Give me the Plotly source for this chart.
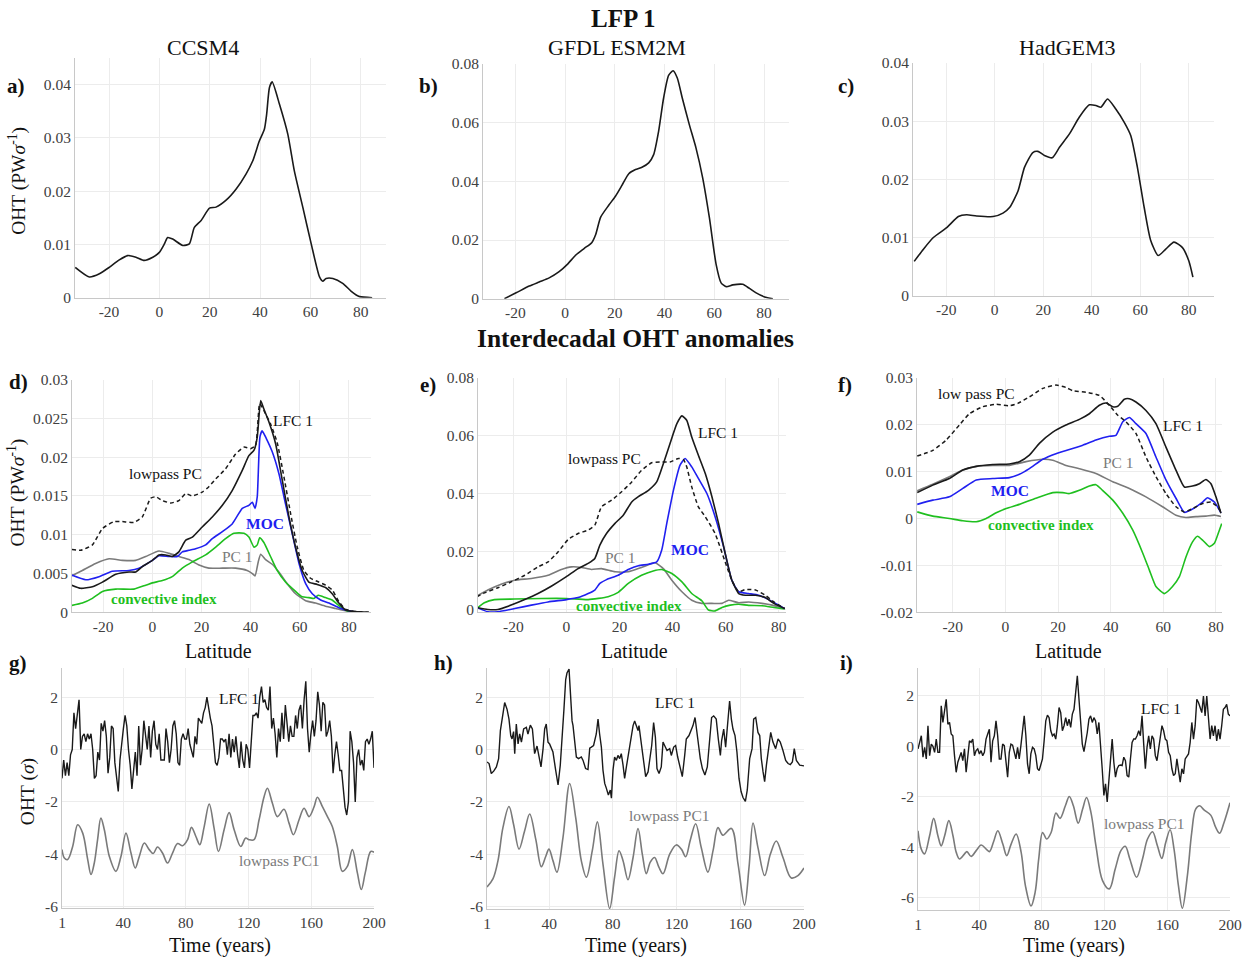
import numpy as np
import plotly.graph_objects as go

W, H = 1257, 957
M = 8                      # page inset observed in rendering
FW, FH = W - 2 * M, H - 2 * M
FONT = "Liberation Serif"

# ---------------- Row 1: LFP 1 patterns ----------------
a_lat = [-33.4, -27.8, -23.8, -19.9, -15.9, -12.6, -9.3, -6, -2.6, 0, 2, 3.3, 5.3, 9.3, 11.9, 13.9, 16.6, 19.9, 22.5,
         26.5, 30.5, 34.4, 37.1, 39.7, 41.7, 42.6, 43.7, 44.8, 47.7, 51, 53.6, 57, 60.3, 63.6, 64.9, 66.2, 68.9, 72.8,
         76.2, 79.5, 84.5]
a_val = [0.0057, 0.0039, 0.0045, 0.0057, 0.0071, 0.0079, 0.0076, 0.0070, 0.0076, 0.0085, 0.0101, 0.0113, 0.0110,
         0.0098, 0.0101, 0.0132, 0.0145, 0.0168, 0.0170, 0.0183, 0.0204, 0.0232, 0.0257, 0.0294, 0.0316, 0.0344,
         0.0394, 0.0405, 0.0363, 0.0307, 0.0238, 0.0169, 0.0101, 0.0039, 0.0031, 0.0036, 0.0036, 0.0027, 0.0012,
         0.0002, 0.0]

b_lat = [-24.4, -19.7, -14.4, -10.4, -6.4, -2.4, 0.9, 4.3, 7.6, 10.7, 12.3, 14.3, 17.6, 20.3, 22.9, 25.6, 28.3, 30.9,
         33.6, 35.6, 37.6, 39.6, 41.6, 43.4, 45.1, 47.1, 49.9, 52.6, 55.3, 58.0, 60.7, 62.7, 64.8, 67.4, 71.4, 74.1,
         76.8, 80.2, 83.5]
b_val = [0.0, 0.0020, 0.0043, 0.0057, 0.0071, 0.0092, 0.0117, 0.0149, 0.0171, 0.0191, 0.0219, 0.0278, 0.0319, 0.0350,
         0.0387, 0.0426, 0.0440, 0.0448, 0.0463, 0.0491, 0.0571, 0.0684, 0.0761, 0.0777, 0.0752, 0.0684, 0.0594,
         0.0514, 0.0412, 0.0276, 0.0117, 0.0054, 0.0041, 0.0047, 0.0049, 0.0035, 0.0020, 0.0006, 0.0]

c_lat = [-33.2, -29.4, -25.3, -19.8, -15.0, -11.6, -7.5, -0.7, 3.4, 6.2, 9.6, 12.3, 15.7, 17.8, 20.5, 23.7, 26.7, 30.8,
         34.9, 39.0, 41.7, 43.8, 46.5, 49.9, 53.4, 56.1, 58.8, 61.6, 64.3, 67.4, 70.5, 73.9, 77.3, 80.0, 81.7]
c_val = [0.0059, 0.0080, 0.0100, 0.0117, 0.0136, 0.0139, 0.0137, 0.0136, 0.0142, 0.0152, 0.0180, 0.0221, 0.0246,
         0.0248, 0.0241, 0.0237, 0.0255, 0.0278, 0.0307, 0.0328, 0.0327, 0.0324, 0.0338, 0.0321, 0.0298, 0.0275,
         0.0221, 0.0152, 0.0095, 0.0069, 0.0080, 0.0092, 0.0083, 0.0060, 0.0032]

# ---------------- Row 2: interdecadal OHT anomalies ----------------
# CCSM4
d_lfc_lat = [-32.8, -29.2, -24.4, -20.3, -14.9, -9.5, -6.8, -4.1, 0, 2.7, 5.4, 8.1, 10.8, 13.6, 16.3, 20.3, 24.4, 28.5,
             32.5, 36.6, 39.3, 41.4, 42.7, 44.1, 45.4, 47.5, 50.2, 52.9, 55.6, 58.3, 61, 63.7, 67.1, 70.5, 73.2, 75.9,
             78.6, 82.7, 88.1]
d_lfc_val = [0.0035, 0.0031, 0.0033, 0.0039, 0.0049, 0.0052, 0.0052, 0.0059, 0.0067, 0.0074, 0.0074, 0.0072, 0.0078,
             0.0093, 0.0097, 0.0110, 0.0123, 0.0138, 0.0157, 0.0183, 0.0202, 0.0209, 0.0226, 0.0273, 0.0262, 0.0245,
             0.0217, 0.0170, 0.0123, 0.0084, 0.0054, 0.0039, 0.0036, 0.0032, 0.0024, 0.0012, 0.0003, 0.0001, 0.0]
d_lp_lat = [-32.8, -29.2, -24.4, -20.3, -15.6, -12.2, -7.5, -4.1, -0.7, 1.4, 4.1, 7.5, 10.8, 13.6, 16.3, 20.3, 23,
            25.8, 29.8, 33.9, 37.3, 40, 42, 43.7, 45.4, 48.1, 50.8, 53.6, 56.3, 59, 61.7, 64.4, 67.8, 70.5, 73.2, 75.9,
            78.6, 82.7, 88.1]
d_lp_val = [0.0081, 0.0080, 0.0087, 0.0108, 0.0117, 0.0117, 0.0116, 0.0123, 0.0147, 0.0149, 0.0144, 0.0141, 0.0144,
            0.0153, 0.0150, 0.0155, 0.0162, 0.0172, 0.0185, 0.0204, 0.0213, 0.0211, 0.0215, 0.0269, 0.0260, 0.0243,
            0.0219, 0.0174, 0.0127, 0.0084, 0.0054, 0.0044, 0.0039, 0.0035, 0.0029, 0.0014, 0.0004, 0.0001, 0.0]
d_moc_lat = [-32.8, -27.1, -21.7, -16.3, -9.5, -5.4, 0, 2.7, 6.8, 10.2, 12.2, 14.9, 17.6, 21.7, 24.4, 28.5, 32.5, 36.6,
             39.3, 40.7, 41.8, 42.7, 43.8, 44.7, 46.4, 48.8, 51.5, 54.2, 56.9, 59.7, 62.4, 65.1, 68.5, 71.9, 75.9, 80,
             83.4]
d_moc_val = [0.0048, 0.0042, 0.0046, 0.0053, 0.0054, 0.0057, 0.0067, 0.0073, 0.0072, 0.0072, 0.0078, 0.0080, 0.0082,
             0.0087, 0.0095, 0.0104, 0.0114, 0.0134, 0.0138, 0.0142, 0.0134, 0.0149, 0.0226, 0.0234, 0.0224, 0.0207,
             0.0179, 0.0140, 0.0102, 0.0063, 0.0037, 0.0024, 0.0016, 0.0012, 0.0006, 0.0002, 0.0]
d_pc_lat = [-32.8, -28.5, -23.1, -17.6, -12.2, -6.8, -2.7, 2.7, 6.8, 10.8, 14.9, 19, 23, 28.5, 33.9, 38.6, 40.7, 41.8,
            43.1, 44.1, 46.1, 48.8, 51.5, 54.9, 58.3, 62.4, 66.4, 70.5, 74.6, 78.6, 82.7]
d_pc_val = [0.0047, 0.0054, 0.0063, 0.0069, 0.0067, 0.0067, 0.0072, 0.0079, 0.0076, 0.0072, 0.0068, 0.0061, 0.0057,
            0.0057, 0.0057, 0.0054, 0.0050, 0.0047, 0.0065, 0.0075, 0.0068, 0.0062, 0.0052, 0.0037, 0.0024, 0.0015,
            0.0012, 0.0008, 0.0005, 0.0002, 0.0]
d_ci_lat = [-32.8, -28.5, -24.4, -20.3, -14.9, -7.5, -2.7, 0, 4.1, 8.1, 12.2, 16.3, 21.7, 25.8, 29.8, 33.2, 37.3, 39.3,
            41.4, 42.7, 43.7, 45.4, 48.1, 50.8, 54.2, 58.3, 61, 63.7, 65.8, 67.5, 70.5, 73.2, 76.6, 80, 84]
d_ci_val = [0.0009, 0.0012, 0.0018, 0.0027, 0.0030, 0.0030, 0.0035, 0.0038, 0.0041, 0.0046, 0.0057, 0.0065, 0.0074,
            0.0084, 0.0095, 0.0102, 0.0102, 0.0097, 0.0084, 0.0087, 0.0096, 0.0090, 0.0072, 0.0054, 0.0039, 0.0027,
            0.0020, 0.0019, 0.0018, 0.0022, 0.0019, 0.0016, 0.0007, 0.0001, 0.0]

# GFDL ESM2M
e_lfc_lat = [-33.8, -29.6, -25.8, -20.8, -15.7, -10.7, -5.7, 0, 4.4, 8.2, 10.7, 12.6, 15.1, 18.3, 21.4, 24.6, 27.1,
             30.9, 34, 36.5, 39, 41.6, 43.5, 45.3, 47.2, 49.7, 52.3, 54.8, 57.3, 59.8, 62.3, 64.9, 67.4, 71.2, 74.9,
             78.1, 82.2]
e_lfc_val = [0.0007, 0.0, 0.0, 0.0015, 0.0034, 0.0055, 0.0080, 0.0113, 0.0141, 0.0159, 0.0176, 0.0222, 0.0262, 0.0297,
             0.0325, 0.0371, 0.0389, 0.0411, 0.0440, 0.0503, 0.0572, 0.0641, 0.0668, 0.0653, 0.0595, 0.0532, 0.0469,
             0.0389, 0.0297, 0.0193, 0.0101, 0.0055, 0.0049, 0.0049, 0.0041, 0.0021, 0.0003]
e_lp_lat = [-33.8, -30.9, -25.8, -20.8, -15.7, -10.7, -6.9, -3.1, 0.6, 4.4, 8.2, 10.7, 13.2, 17, 20.8, 24.6, 28.3,
            32.1, 35.9, 39, 42.2, 44.1, 45.3, 47.2, 49.7, 52.3, 56, 59.8, 62.3, 64.9, 67.4, 71.2, 74.9, 78.1, 82.2]
e_lp_val = [0.0044, 0.0057, 0.0075, 0.0095, 0.0118, 0.0147, 0.0164, 0.0199, 0.0241, 0.0262, 0.0274, 0.0291, 0.0354,
            0.0377, 0.0406, 0.0440, 0.0480, 0.0506, 0.0509, 0.0509, 0.0521, 0.0517, 0.0492, 0.0423, 0.0354, 0.0320,
            0.0262, 0.0164, 0.0101, 0.0061, 0.0069, 0.0067, 0.0049, 0.0026, 0.0003]
e_moc_lat = [-33.8, -29.6, -25.8, -19.5, -13.2, -6.9, 0, 4.4, 8.2, 10.7, 12.6, 15.1, 19.5, 23.3, 27.1, 30.9, 34, 35.9,
             37.8, 40.3, 42.8, 44.7, 47.2, 49.7, 52.9, 56, 59.2, 62.3, 64.9, 68.6, 72.4, 76.2, 79.3, 82.2]
e_moc_val = [0.0007, -0.0008, -0.0008, 0.0003, 0.0015, 0.0026, 0.0034, 0.0041, 0.0055, 0.0067, 0.0090, 0.0103, 0.0118,
             0.0138, 0.0151, 0.0156, 0.0164, 0.0205, 0.0297, 0.0411, 0.0498, 0.0521, 0.0492, 0.0452, 0.0400, 0.0320,
             0.0216, 0.0101, 0.0061, 0.0055, 0.0049, 0.0034, 0.0018, 0.0003]
e_pc_lat = [-33.8, -29.6, -24.6, -19.5, -13.2, -6.9, -1.9, 1.9, 5.7, 9.4, 13.2, 18.3, 23.3, 28.3, 33.4, 36.5, 39.7,
            43.5, 47.2, 51, 54.8, 58.6, 61.1, 64.9, 68.6, 73.7, 77.5, 82.2]
e_pc_val = [0.0046, 0.0067, 0.0087, 0.0101, 0.0107, 0.0118, 0.0138, 0.0147, 0.0145, 0.0138, 0.0141, 0.0130, 0.0130,
            0.0145, 0.0161, 0.0141, 0.0101, 0.0061, 0.0032, 0.0021, 0.0021, 0.0021, 0.0032, 0.0023, 0.0026, 0.0021,
            0.0015, 0.0003]
e_ci_lat = [-33.8, -30.9, -27.1, -19.5, -9.4, 0, 8.2, 15.7, 19.5, 23.3, 28.3, 32.7, 35.9, 39.7, 43.5, 47.2, 51, 53.5,
            56, 58.6, 61.7, 64.9, 68.6, 73.7, 78.1, 82.2]
e_ci_val = [0.0003, 0.0023, 0.0034, 0.0036, 0.0038, 0.0038, 0.0034, 0.0044, 0.0059, 0.0090, 0.0118, 0.0133, 0.0138,
            0.0124, 0.0095, 0.0055, 0.0030, -0.0002, -0.0005, 0.0007, 0.0015, 0.0018, 0.0014, 0.0013, 0.0007, 0.0002]

# HadGEM3
f_lfc_lat = [-33.5, -27.6, -21.3, -16.2, -11.1, -4.8, 1.5, 5.3, 9.1, 12.9, 18, 23, 28.1, 31.9, 35.7, 38.2, 40.8, 42.7,
             45.2, 47.1, 49.6, 53.4, 57.2, 61, 64.8, 68, 71.1, 73.7, 76.2, 78.1, 80, 81.9]
f_lfc_val = [0.0055, 0.0071, 0.0085, 0.0103, 0.0111, 0.0115, 0.0116, 0.0121, 0.0135, 0.0160, 0.0184, 0.0199, 0.0211,
             0.0223, 0.0241, 0.0246, 0.0238, 0.0239, 0.0254, 0.0255, 0.0248, 0.0230, 0.0202, 0.0152, 0.0103, 0.0067,
             0.0069, 0.0074, 0.0083, 0.0074, 0.0046, 0.0011]
f_lp_lat = [-33.5, -27.6, -22.5, -17.5, -13.7, -8.6, -3.5, 1.5, 4.7, 9.1, 14.2, 19.2, 23, 25.6, 30.6, 35.7, 39.5,
            42.7, 45.8, 49.6, 53.4, 57.2, 61, 64.8, 68, 71.1, 74.9, 78.1, 80.6, 81.9]
f_lp_val = [0.0133, 0.0145, 0.0167, 0.0199, 0.0223, 0.0238, 0.0243, 0.0240, 0.0245, 0.0259, 0.0277, 0.0284, 0.0279,
            0.0272, 0.0269, 0.0262, 0.0241, 0.0220, 0.0206, 0.0181, 0.0131, 0.0089, 0.0053, 0.0025, 0.0014, 0.0021,
            0.0032, 0.0035, 0.0025, 0.0014]
f_moc_lat = [-33.5, -27.6, -21.3, -16.2, -11.1, -4.8, 1.5, 5.3, 9.1, 14.2, 19.2, 24.3, 29.4, 34.4, 39.5, 42, 44.6,
             47.1, 49.6, 53.4, 57.2, 61, 64.8, 68, 71.1, 74.9, 76.8, 79.4, 81.9]
f_moc_val = [0.0030, 0.0039, 0.0046, 0.0064, 0.0082, 0.0085, 0.0087, 0.0094, 0.0106, 0.0126, 0.0138, 0.0147, 0.0156,
             0.0167, 0.0175, 0.0177, 0.0206, 0.0215, 0.0202, 0.0181, 0.0131, 0.0082, 0.0043, 0.0013, 0.0020, 0.0035,
             0.0044, 0.0035, 0.0012]
f_pc_lat = [-33.5, -27.6, -21.3, -16.2, -11.1, -4.8, 1.5, 7.8, 14.2, 18, 23, 28.1, 34.4, 40.8, 47.1, 53.4, 59.7, 64.8,
            68.6, 72.4, 76.2, 79.4, 81.9]
f_pc_val = [0.0059, 0.0073, 0.0089, 0.0103, 0.0111, 0.0113, 0.0113, 0.0121, 0.0126, 0.0124, 0.0113, 0.0106, 0.0096,
            0.0078, 0.0064, 0.0046, 0.0025, 0.0007, 0.0002, 0.0004, 0.0005, 0.0007, 0.0004]
f_ci_lat = [-33.5, -27.6, -21.3, -16.2, -11.1, -7.3, -3.5, 0.3, 5.3, 11.6, 18, 21.8, 24.3, 28.1, 31.9, 34.4, 36.9,
            40.8, 44.6, 48.4, 52.2, 54.7, 57.2, 60.4, 63.5, 66.1, 68.6, 71.1, 73, 74.9, 77.5, 79.4, 81.3, 82.2]
f_ci_val = [0.0014, 0.0005, 0.0, -0.0005, -0.0007, 0.0, 0.0012, 0.0021, 0.0030, 0.0043, 0.0055, 0.0055, 0.0053,
            0.0060, 0.0069, 0.0072, 0.0060, 0.0039, 0.0011, -0.0025, -0.0074, -0.0110, -0.0145, -0.0160, -0.0145,
            -0.0124, -0.0082, -0.0050, -0.0038, -0.0046, -0.0060, -0.0053, -0.0025, -0.0011]

# ---------------- Row 3: time series ----------------
g_lfc = [-1.1, -0.4, -1.0, -0.5, -1.0, -0.2, 0.0, 1.4, 0.8, 1.4, 1.9, 0.0, 0.5, 0.6, 0.3, 0.6, 0.4, 0.6, 0.0, -1.1,
         -1.0, -0.1, -0.4, 1.0, 0.7, 1.1, 0.5, -0.9, -0.3, 0.9, 0.8, -0.5, -1.0, -1.6, -0.4, 0.3, 0.8, 1.3, 0.9, 0.0,
         -0.6, -1.5, -0.8, -0.1, -1.0, 0.9, -0.6, 0.0, 1.1, 0.6, 0.0, 0.9, -0.3, 0.7, 1.1, 0.2, 0.0, 0.6, -0.4, -0.4,
         -0.4, 0.8, 0.3, -0.5, 0.0, 0.9, 1.1, 0.6, -0.5, -0.6, 0.4, 0.6, 0.4, 0.4, 0.8, 0.2, -0.1, -0.3, 0.5, 0.2,
         1.2, 1.1, 1.0, 1.4, 1.6, 2.0, 1.5, 1.2, 0.9, 0.0, -0.5, -0.6, -0.3, 0.4, 0.4, 0.3, 0.4, -0.2, 0.6, -0.3,
         0.4, -0.1, 0.5, -0.2, -0.7, 0.3, -0.4, -0.7, 0.2, 0.0, -0.7, 0.3, 1.3, 1.3, 1.4, 1.2, 2.0, 2.4, 1.8, 1.9,
         1.6, 1.5, 2.4, 0.8, 1.2, 0.6, -0.3, 0.8, 0.3, 1.4, 0.4, 1.7, 1.1, 0.3, 0.9, 0.5, 0.5, 1.3, 0.8, 1.5, 1.7,
         0.8, 1.9, 2.6, 0.8, -0.1, 0.6, 1.1, 0.5, 1.1, 2.2, 1.7, 0.7, 1.8, 1.7, 0.5, 0.7, 1.1, 0.5, -0.9, -0.2, 0.3,
         -0.2, -0.8, -0.8, -1.5, -2.2, -2.5, -2.0, 0.7, 0.3, -0.5, -2.0, -0.3, 0.0, -0.6, -0.4, -0.8, 0.3, 0.4, 0.2,
         0.4, 0.7, -0.7]
g_lp_year = [1.0, 2.5, 4.6, 7.8, 11.0, 14.2, 17.4, 19.5, 21.6, 23.7, 25.8, 28.0, 31.2, 35.4, 38.6, 41.8, 45.0, 47.7,
             50.3, 53.5, 56.6, 59.2, 61.9, 65.1, 68.3, 71.5, 74.7, 77.9, 81.1, 83.6, 86.4, 88.9, 91.7, 94.9, 98.0,
             100.8, 104.4, 107.6, 110.8, 115.0, 118.2, 120.3, 123.5, 126.7, 129.9, 132.0, 135.2, 138.4, 142.6, 145.8,
             148.6, 152.2, 155.4, 158.6, 161.8, 163.9, 167.1, 170.3, 173.4, 176.6, 179.8, 183.0, 186.2, 189.4, 191.9,
             194.4, 197.9, 200.0]
g_lp = [-3.82, -4.14, -4.20, -3.70, -2.87, -3.19, -4.20, -4.77, -4.33, -3.44, -2.62, -3.06, -4.08, -4.65, -4.08,
        -3.19, -3.95, -4.52, -4.08, -3.57, -3.82, -3.97, -3.72, -3.95, -4.33, -3.95, -3.59, -3.67, -3.44, -2.97,
        -3.32, -3.63, -2.94, -2.08, -3.00, -3.89, -3.06, -2.41, -3.06, -3.70, -3.38, -3.44, -3.44, -2.68, -1.80,
        -1.48, -2.05, -2.56, -2.28, -2.81, -3.25, -2.68, -2.24, -2.56, -2.18, -1.82, -2.18, -2.56, -2.94, -3.70,
        -4.65, -4.46, -3.82, -4.71, -5.34, -4.71, -3.89, -3.92]

h_lfc_year = [1.0, 2.3, 3.7, 5.2, 6.9, 8.3, 9.4, 10.6, 12.1, 13.6, 14.8, 15.9, 16.7, 17.7, 18.4, 19.4, 20.5, 21.5,
              22.6, 24.0, 25.7, 26.7, 28.2, 29.5, 30.9, 32.4, 33.6, 34.9, 36.2, 37.2, 38.2, 39.3, 40.3, 41.4, 42.4,
              44.1, 45.6, 47.0, 48.3, 49.3, 50.4, 51.2, 52.5, 53.5, 54.4, 55.0, 56.0, 57.1, 58.5, 60.2, 61.3, 62.9,
              64.4, 65.5, 66.5, 67.9, 69.6, 70.7, 71.7, 72.8, 73.8, 74.9, 75.9, 77.2, 78.4, 79.1, 80.1, 81.1, 82.2,
              83.2, 84.3, 85.3, 86.4, 87.4, 88.5, 90.6, 91.6, 92.7, 93.7, 94.7, 95.8, 96.4, 97.3, 99.0, 100.6, 102.1,
              103.1, 104.4, 105.6, 106.7, 107.7, 109.0, 110.4, 111.5, 112.5, 114.0, 115.7, 116.7, 118.2, 119.4,
              120.7, 121.9, 123.6, 125.1, 126.1, 127.8, 129.3, 130.3, 131.6, 132.8, 133.9, 134.9, 136.2, 137.8,
              139.3, 140.8, 142.0, 143.3, 144.9, 146.2, 147.5, 148.3, 149.6, 150.8, 152.3, 153.3, 154.4, 155.4,
              156.7, 157.9, 159.2, 160.5, 161.7, 163.2, 164.4, 165.9, 167.4, 168.4, 169.7, 171.1, 172.2, 173.2,
              174.3, 175.3, 176.4, 178.0, 179.1, 180.5, 182.2, 183.7, 185.1, 186.8, 188.5, 190.0, 191.4, 192.7,
              193.9, 195.2, 197.3, 200.0]
h_lfc = [-0.48, -0.54, -0.92, -0.83, -0.67, -0.35, 0.72, 1.16, 1.79, 1.53, 1.16, 0.53, 0.40, 0.68, -0.16, 0.97, 0.21,
         0.59, 0.28, 0.78, 0.84, 0.59, 0.93, 0.78, -0.16, 0.13, -0.23, -0.67, 0.03, 0.78, 0.97, 0.28, 0.21, 0.05,
         -0.10, -0.79, -1.36, -0.60, 0.40, 1.53, 2.67, 2.92, 3.07, 1.79, 1.09, 0.91, 0.28, -0.29, -0.35, -0.29, -0.42,
         -0.73, -0.77, 0.05, 0.09, 0.15, 0.59, 1.16, 0.59, 0.09, -0.79, -1.30, -1.48, -1.74, -1.55, -1.86, -0.79,
         -0.29, -0.42, -0.23, -0.35, -0.16, -0.60, -1.11, -0.67, 0.09, 0.53, 0.91, 1.09, 0.91, 0.72, 0.91, 0.47,
         -0.48, -1.04, -0.86, -0.35, 0.15, 1.03, 0.47, -0.73, -0.92, -0.67, 0.28, 0.15, -0.04, 0.03, -0.23, 0.09,
         0.15, -0.29, -0.60, -1.04, -0.23, 0.40, 0.53, 0.78, 0.91, 1.22, 0.65, 0.03, -0.35, -0.73, -0.98, -0.67,
         0.40, 1.22, 1.28, 1.16, 0.40, -0.23, 0.34, 0.78, 0.09, 1.16, 1.85, 1.16, 0.78, 0.53, -0.10, -1.11, -1.61,
         -1.84, -1.99, -1.55, -0.35, 0.03, 1.16, 1.22, 0.65, 0.53, -0.35, -0.86, -1.23, -0.60, 0.28, 0.65, 0.28,
         0.03, 0.40, 0.28, -0.04, -0.42, -0.54, -0.58, -0.48, 0.03, -0.42, -0.60, -0.63]
h_lp_year = [1.0, 4.8, 7.9, 11.0, 14.8, 17.7, 21.1, 24.6, 27.8, 31.6, 35.1, 37.8, 39.9, 42.4, 44.9, 48.7, 52.9, 56.7,
             60.2, 63.4, 67.1, 70.3, 73.8, 78.0, 81.1, 83.9, 86.4, 89.5, 92.7, 95.8, 98.5, 101.0, 103.5, 106.2,
             108.9, 111.5, 115.7, 119.8, 123.0, 125.7, 128.6, 132.0, 135.5, 139.7, 142.9, 146.0, 149.1, 154.4,
             158.6, 162.7, 165.5, 168.0, 171.1, 175.3, 178.9, 182.6, 186.8, 192.0, 196.2, 200.0]
h_lp = [-5.26, -4.94, -4.25, -2.99, -2.18, -2.87, -3.81, -3.12, -2.47, -3.43, -4.48, -4.10, -3.81, -4.25, -4.69,
        -3.37, -1.30, -2.62, -4.25, -4.88, -3.87, -2.77, -4.38, -6.08, -4.88, -3.87, -4.25, -4.98, -4.13, -3.02,
        -4.00, -4.75, -4.31, -4.13, -4.50, -4.75, -4.00, -3.65, -3.81, -4.10, -3.47, -2.84, -3.75, -4.69, -3.87,
        -2.99, -3.28, -3.02, -4.38, -5.95, -4.50, -2.81, -3.75, -4.82, -4.00, -3.50, -4.13, -4.91, -4.82, -4.53]

i_lfc = [-0.10, 0.16, 0.42, -0.43, -0.04, -0.50, 0.82, -0.37, 0.09, 0.00, -0.24, 0.29, -0.24, -0.24, 1.61, 0.95,
         1.47, 1.87, 0.88, 0.95, 0.49, 0.42, -0.37, -1.03, -0.63, -0.43, -0.24, -0.57, -0.10, -1.03, -0.50, 0.22,
         0.16, 0.29, -0.37, -0.17, -0.10, -0.30, -0.17, -0.37, -0.24, 0.29, 0.49, 0.68, -0.63, 0.22, 0.42, 1.01,
         0.42, -0.50, -0.50, 0.09, 0.03, -0.63, -1.22, -0.24, 0.09, 0.05, -0.24, -0.50, -0.04, -0.50, 0.03, 0.55,
         1.21, 0.42, -0.70, -1.09, -0.30, -0.04, -0.10, -0.37, -0.89, -0.96, -0.70, -0.50, 0.22, 1.01, 1.24, 1.14,
         0.62, 0.42, 0.49, 0.29, 0.82, 1.54, 1.34, 0.62, 0.82, 1.14, 0.82, 1.08, 0.75, 1.28, 1.47, 2.13, 2.80, 1.87,
         0.82, 0.09, -0.21, 0.16, 0.55, 1.08, 1.21, 0.95, 1.14, 1.01, 0.49, 0.95, 0.16, -0.89, -1.95, -1.49, -2.21,
         -1.42, -0.37, 0.29, -0.63, -1.22, -0.89, -0.76, -0.74, -0.76, -0.43, -0.57, -1.16, -1.22, -0.50, 0.16, 0.29,
         0.29, 0.42, 0.62, 0.42, 1.21, 0.09, -0.89, -0.04, 0.42, -0.10, 0.42, 0.29, -0.37, -0.57, -0.04, 0.29, 0.82,
         0.62, 0.29, 0.22, -0.24, -0.37, -0.89, -1.16, -1.09, -0.50, -1.09, -1.42, -0.89, -1.09, -0.50, -0.37, -0.30,
         0.16, 0.95, 0.29, 0.82, 1.87, 1.74, 1.54, 1.34, 2.00, 1.21, 2.00, 0.95, 0.29, 0.82, 0.42, 0.82, 0.22, 0.68,
         0.29, 0.82, 1.47, 1.54, 1.67, 1.28, 1.21]
i_lp_year = [1.0, 3.1, 5.2, 8.4, 11.0, 13.7, 15.8, 18.0, 20.7, 23.3, 25.4, 27.5, 30.7, 32.2, 34.9, 38.1, 41.3, 44.5,
             46.6, 49.2, 51.9, 55.1, 57.6, 60.4, 63.6, 66.8, 69.5, 73.1, 75.7, 78.0, 80.5, 83.1, 85.9, 89.0, 91.6,
             95.0, 97.5, 100.1, 103.2, 106.0, 108.5, 111.3, 114.5, 118.7, 123.0, 126.8, 130.4, 133.2, 136.1, 140.4,
             144.2, 147.4, 150.6, 153.7, 156.5, 159.0, 161.8, 164.3, 167.1, 169.6, 172.8, 175.6, 178.1, 180.7,
             183.4, 187.7, 190.9, 193.4, 196.2, 200.0]
i_lp = [-3.35, -4.08, -4.27, -3.55, -2.86, -3.55, -3.95, -3.55, -2.95, -3.55, -4.21, -4.47, -4.27, -4.18, -4.37,
        -4.14, -3.92, -4.08, -4.18, -3.79, -3.35, -3.88, -4.34, -3.88, -3.48, -4.21, -5.53, -6.34, -5.80, -4.47,
        -3.42, -3.68, -3.42, -2.65, -2.86, -2.36, -1.99, -2.36, -3.05, -2.49, -2.03, -2.62, -3.95, -5.33, -5.66,
        -4.87, -4.14, -3.97, -4.47, -5.20, -4.47, -3.68, -3.39, -3.95, -4.45, -3.82, -3.31, -4.08, -5.53, -6.43,
        -5.14, -3.42, -2.49, -2.36, -2.52, -2.73, -3.22, -3.45, -3.02, -2.24]

lat_ticks = [-20, 0, 20, 40, 60, 80]
year_ticks = [1, 40, 80, 120, 160, 200]

# ---------------- styling ----------------
BLACK = "#1a1a1a"
GRAY = "#7a7a7a"
BLUE = "#2020f0"
GREEN = "#1fbf1f"
LW = 1.6

fig = go.Figure()


def px_x(x0, x1):
    return [(x0 - M) / FW, (x1 - M) / FW]


def px_y(y0, y1):
    return [1 - (y1 - M) / FH, 1 - (y0 - M) / FH]


panels = {
    1: dict(x=px_x(79, 390), y=px_y(57, 297), xr=[-33.5, 90], yr=[0, 0.045],
            yt=[0, 0.01, 0.02, 0.03, 0.04], xt=lat_ticks),
    2: dict(x=px_x(487, 793), y=px_y(63, 298), xr=[-33, 90], yr=[0, 0.08],
            yt=[0, 0.02, 0.04, 0.06, 0.08], xt=lat_ticks),
    3: dict(x=px_x(917, 1218), y=px_y(62, 295), xr=[-33.7, 90.4], yr=[0, 0.04],
            yt=[0, 0.01, 0.02, 0.03, 0.04], xt=lat_ticks),
    4: dict(x=px_x(76, 375), y=px_y(379, 612), xr=[-32.7, 89], yr=[0, 0.03],
            yt=[0, 0.005, 0.01, 0.015, 0.02, 0.025, 0.03], xt=lat_ticks),
    5: dict(x=px_x(482, 790), y=px_y(377, 612), xr=[-33.3, 82.7], yr=[-0.001, 0.08],
            yt=[0, 0.02, 0.04, 0.06, 0.08], xt=lat_ticks),
    6: dict(x=px_x(921, 1226), y=px_y(377, 612), xr=[-33.6, 82.3], yr=[-0.02, 0.03],
            yt=[-0.02, -0.01, 0, 0.01, 0.02, 0.03], xt=lat_ticks),
    7: dict(x=px_x(66, 378), y=px_y(668, 908), xr=[1, 200], yr=[-6.05, 3.1],
            yt=[-6, -4, -2, 0, 2], xt=year_ticks),
    8: dict(x=px_x(491, 808), y=px_y(668, 909), xr=[1, 200], yr=[-6.1, 3.1],
            yt=[-6, -4, -2, 0, 2], xt=year_ticks),
    9: dict(x=px_x(922, 1234), y=px_y(668, 910), xr=[1, 200], yr=[-6.5, 3.1],
            yt=[-6, -4, -2, 0, 2], xt=year_ticks),
}


def fmt(v):
    if v == 0:
        return "0"
    return "%g" % v


layout_axes = {}
for k, p in panels.items():
    xa = "xaxis" if k == 1 else "xaxis%d" % k
    ya = "yaxis" if k == 1 else "yaxis%d" % k
    common = dict(showgrid=True, gridcolor="#ececec", gridwidth=1, zeroline=False,
                  showline=True, linecolor="#c8c8c8", linewidth=1, ticks="",
                  tickfont=dict(family=FONT, size=15.5, color="#404040"))
    layout_axes[xa] = dict(domain=p["x"], range=p["xr"], anchor="y" if k == 1 else "y%d" % k,
                           tickvals=p["xt"], ticktext=[fmt(v) for v in p["xt"]], **common)
    layout_axes[ya] = dict(domain=p["y"], range=p["yr"], anchor="x" if k == 1 else "x%d" % k,
                           tickvals=p["yt"], ticktext=[fmt(v) for v in p["yt"]], **common)


def add(k, x, y, color, dash="solid", shape="spline", smooth=0.6, width=LW):
    line = dict(color=color, width=width, dash=dash, shape=shape)
    if shape == "spline":
        line["smoothing"] = smooth
    fig.add_trace(go.Scatter(x=x, y=y, mode="lines", line=line,
                             xaxis="x" if k == 1 else "x%d" % k, yaxis="y" if k == 1 else "y%d" % k,
                             showlegend=False, hoverinfo="skip"))


# row 1
add(1, a_lat, a_val, BLACK)
add(2, b_lat, b_val, BLACK)
add(3, c_lat, c_val, BLACK)

# row 2
for k, lp, pc, ci, moc, lfc in [
    (4, (d_lp_lat, d_lp_val), (d_pc_lat, d_pc_val), (d_ci_lat, d_ci_val), (d_moc_lat, d_moc_val), (d_lfc_lat, d_lfc_val)),
    (5, (e_lp_lat, e_lp_val), (e_pc_lat, e_pc_val), (e_ci_lat, e_ci_val), (e_moc_lat, e_moc_val), (e_lfc_lat, e_lfc_val)),
    (6, (f_lp_lat, f_lp_val), (f_pc_lat, f_pc_val), (f_ci_lat, f_ci_val), (f_moc_lat, f_moc_val), (f_lfc_lat, f_lfc_val)),
]:
    add(k, pc[0], pc[1], GRAY, smooth=0.5)
    add(k, ci[0], ci[1], GREEN, smooth=0.5)
    add(k, moc[0], moc[1], BLUE, smooth=0.5)
    add(k, lp[0], lp[1], BLACK, dash="4px,3px", smooth=0.5, width=1.5)
    add(k, lfc[0], lfc[1], BLACK, smooth=0.5)

# row 3
g_year = np.linspace(1, 200, len(g_lfc))
i_year = np.linspace(1, 200, len(i_lfc))
add(7, g_lp_year, g_lp, GRAY, smooth=1.0)
add(7, g_year, g_lfc, BLACK, shape="linear", width=1.4)
add(8, h_lp_year, h_lp, GRAY, smooth=1.0)
add(8, h_lfc_year, h_lfc, BLACK, shape="linear", width=1.4)
add(9, i_lp_year, i_lp, GRAY, smooth=1.0)
add(9, i_year, i_lfc, BLACK, shape="linear", width=1.4)

annotations = []


def text(x, y, s, size=15, color="#111", bold=False, angle=0):
    annotations.append(dict(x=(x - M) / FW, y=1 - (y - M) / FH, xref="paper", yref="paper",
                            text=("<b>%s</b>" % s) if bold else s,
                            showarrow=False, xanchor="center", yanchor="middle", textangle=angle,
                            font=dict(family=FONT, size=size, color=color)))


text(627, 18, "LFP 1", size=25, bold=True)
text(207, 47, "CCSM4", size=22)
text(621, 47, "GFDL ESM2M", size=22)
text(1071, 47, "HadGEM3", size=22)
text(639, 338, "Interdecadal OHT anomalies", size=25.5, bold=True)

for (x, y, s) in [(20, 85, "a)"), (432, 85, "b)"), (850, 85, "c)"), (22, 381, "d)"), (432, 384, "e)"),
                  (849, 384, "f)"), (22, 663, "g)"), (447, 663, "h)"), (850, 663, "i)")]:
    text(x, y, s, size=21, bold=True)

text(22, 180, "OHT (PW<i>σ</i><sup>-1</sup>)", size=19.5, angle=-90)
text(20, 492, "OHT (PW<i>σ</i><sup>-1</sup>)", size=19.5, angle=-90)
text(32, 792, "OHT (<i>σ</i>)", size=19.5, angle=-90)

for x in (222, 638, 1072):
    text(x, 651, "Latitude", size=20)
for x in (224, 640, 1078):
    text(x, 945, "Time (years)", size=20)

# row 2 labels
text(297, 420, "LFC 1", size=15.5)
text(169, 473, "lowpass PC", size=15.5)
text(269, 523, "MOC", size=15.5, color=BLUE, bold=True)
text(241, 556, "PC 1", size=15.5, color=GRAY)
text(168, 599, "convective index", size=15, color=GREEN, bold=True)

text(722, 432, "LFC 1", size=15.5)
text(608, 458, "lowpass PC", size=15.5)
text(694, 549, "MOC", size=15.5, color=BLUE, bold=True)
text(624, 557, "PC 1", size=15.5, color=GRAY)
text(633, 606, "convective index", size=15, color=GREEN, bold=True)

text(980, 393, "low pass PC", size=15.5)
text(1187, 425, "LFC 1", size=15.5)
text(1122, 462, "PC 1", size=15.5, color=GRAY)
text(1014, 490, "MOC", size=15.5, color=BLUE, bold=True)
text(1045, 525, "convective index", size=15, color=GREEN, bold=True)

# row 3 labels
text(243, 698, "LFC 1", size=15.5)
text(283, 860, "lowpass PC1", size=15.5, color=GRAY)
text(679, 702, "LFC 1", size=15.5)
text(673, 815, "lowpass PC1", size=15.5, color=GRAY)
text(1165, 708, "LFC 1", size=15.5)
text(1148, 823, "lowpass PC1", size=15.5, color=GRAY)

fig.update_layout(width=W, height=H, margin=dict(l=0, r=0, t=0, b=0), plot_bgcolor="white",
                  paper_bgcolor="white", showlegend=False, annotations=annotations, **layout_axes)

fig.write_html("out.html")
